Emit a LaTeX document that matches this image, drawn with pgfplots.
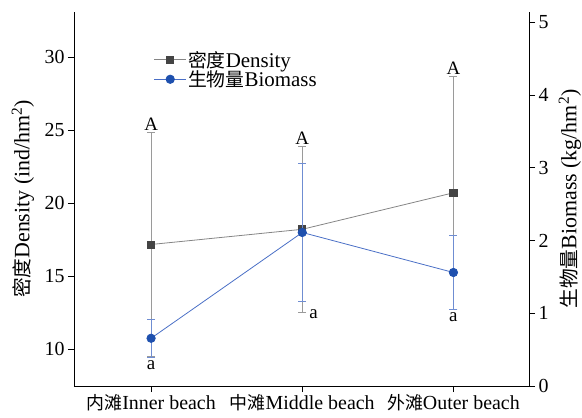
\documentclass[border=0pt]{standalone}
\usepackage{fontspec}
\setmainfont{Liberation Serif}
\newfontfamily\cjk[Scale=0.9]{Noto Sans CJK SC}
\usepackage{pgfplots}
\pgfplotsset{compat=1.18}

\definecolor{densline}{HTML}{858585}
\definecolor{densmark}{HTML}{444444}
\definecolor{densbar}{HTML}{9A9A9A}
\definecolor{bioline}{HTML}{4A6FC6}
\definecolor{biomark}{HTML}{1E50AE}
\definecolor{biobar}{HTML}{6F8DD2}

\pgfplotsset{
  twin/.style={
    scale only axis, width=455bp, height=374bp,
    xmin=-0.51, xmax=2.5,
    tick align=outside, major tick length=6bp,
    tick style={black, line width=0.9pt},
    axis line style={black, line width=1pt, -},
    tick label style={font=\fontsize{20}{22}\selectfont},
    label style={font=\fontsize{22}{24}\selectfont},
    /pgf/number format/assume math mode=true,
  },
  longleg/.style={
    legend image code/.code={
      \draw[mark repeat=2, mark phase=2, ##1]
        plot coordinates {(0bp,0bp) (16bp,0bp) (32bp,0bp)};
    }
  }
}

\begin{document}
\begin{tikzpicture}
\path[use as bounding box] (-74bp,-32bp) rectangle (508bp,374bp+12bp);

% density on the left axis
\begin{axis}[twin,
  axis x line*=bottom, axis y line*=left,
  ymin=7.47, ymax=33.08,
  ytick={10,15,20,25,30},
  xtick={0,1,2},
  xticklabels={{\cjk 内滩}Inner beach,{\cjk 中滩}Middle beach,{\cjk 外滩}Outer beach},
  xticklabel style={yshift=1bp},
  ylabel={{\cjk 密度}Density (ind/hm\textsuperscript{2})},
  ylabel style={at={(axis description cs:0,0.5)}, anchor=center, yshift=51bp},
]
\addplot[densline, line width=0.8pt, mark=square*, mark size=3.6pt,
  mark options={densmark, draw=densmark, fill=densmark},
  error bars/.cd, y dir=both, y explicit,
  error bar style={densbar, line width=0.9pt},
  error mark options={rotate=90, mark size=4pt, densbar, line width=0.9pt}]
  coordinates {
    (0,17.16) +- (0,7.70)
    (1,18.20) +- (0,5.69)
    (2,20.70) +- (0,7.98)
  };
\node[above, inner sep=1.5bp, font=\fontsize{19}{21}\selectfont] at (axis cs:0,24.86) {A};
\node[above, inner sep=1.5bp, font=\fontsize{19}{21}\selectfont] at (axis cs:1,23.89) {A};
\node[above, inner sep=1.5bp, font=\fontsize{19}{21}\selectfont] at (axis cs:2,28.68) {A};
\node[right, inner sep=1bp, xshift=6bp, yshift=-2bp, font=\fontsize{19}{21}\selectfont] at (axis cs:1,12.51) {a};
\end{axis}

% biomass on the right axis
\begin{axis}[twin,
  axis x line=none, axis y line*=right,
  ymin=0, ymax=5.14,
  ytick={0,1,2,3,4,5},
  ylabel={{\cjk 生物量}Biomass (kg/hm\textsuperscript{2})},
  ylabel style={at={(axis description cs:1,0.5)}, anchor=center, yshift=-41bp},
  legend style={at={(axis description cs:0.175,0.90)}, anchor=north west,
    draw=none, fill=none, font=\fontsize{21}{21}\selectfont,
    row sep=-1bp, inner sep=0bp, nodes={inner sep=1.5bp}},
  legend cell align=left,
]
\addlegendimage{longleg, densline, line width=0.8pt, mark=square*, mark size=3.6pt,
  mark options={densmark, draw=densmark, fill=densmark}}
\addlegendentry{{\cjk 密度}Density}
\addplot[longleg, bioline, line width=0.8pt, mark=*, mark size=4.2pt,
  mark options={biomark, draw=biomark, fill=biomark},
  error bars/.cd, y dir=both, y explicit,
  error bar style={biobar, line width=0.9pt},
  error mark options={rotate=90, mark size=4pt, biobar, line width=0.9pt}]
  coordinates {
    (0,0.656) +- (0,0.262)
    (1,2.110) +- (0,0.945)
    (2,1.560) +- (0,0.510)
  };
\addlegendentry{{\cjk 生物量}Biomass}
\node[below, inner sep=3bp, font=\fontsize{19}{21}\selectfont] at (axis cs:0,0.39) {a};
\node[below, inner sep=3bp, font=\fontsize{19}{21}\selectfont] at (axis cs:2,1.05) {a};
\end{axis}
\end{tikzpicture}
\end{document}
